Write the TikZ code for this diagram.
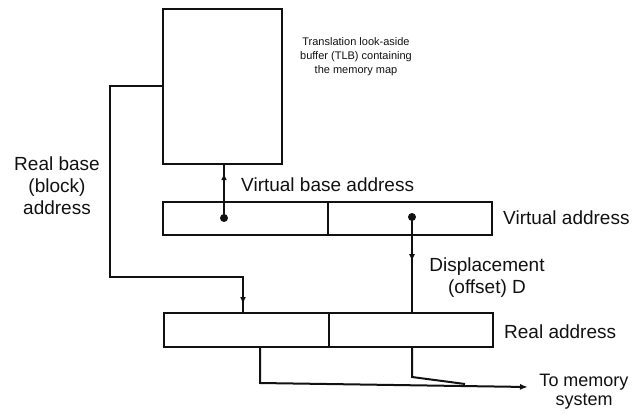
\documentclass[tikz,border=0pt]{standalone}
\usepackage{fontspec}
\setmainfont{Liberation Sans}
\usepackage{tikz}
\usetikzlibrary{arrows.meta,positioning,calc,decorations.markings}
\definecolor{MapInk}{HTML}{111111}

\tikzset{
  reg/.style={draw=MapInk,line width=2pt,minimum height=33pt,inner sep=0pt,outer sep=0pt},
  wire/.style={draw=MapInk,line width=2pt},
  tipat/.style={postaction={decorate},decoration={markings,mark=at position #1 with {\arrow{Latex[length=7pt,width=6pt]}}}},
  lbl/.style={text=MapInk,font=\fontsize{19}{22}\selectfont,inner sep=0pt},
  dot/.style={circle,fill=MapInk,inner sep=0pt,minimum size=8pt}
}

\begin{document}
\begin{tikzpicture}[x=1pt,y=-1pt]
\useasboundingbox (0,0) rectangle (638,413);
% TLB and the two address registers
\node[reg,minimum width=119pt,minimum height=155pt] (tlb) at (222.5,86.5) {};
\node[reg,minimum width=165pt] (vbase) at (245.5,218.5) {};
\node[reg,minimum width=164pt,right=0pt of vbase] (voff) {};
\node[reg,minimum width=165pt,minimum height=34pt] (rbase) at (246.5,330) {};
\node[reg,minimum width=164pt,minimum height=34pt,right=0pt of rbase] (roff) {};
\node[dot] (vdot) at (224,218) {};
\node[dot] (ddot) at (412,217) {};
\coordinate (mem) at (528,387);
% connectors
\draw[wire,tipat=0.83] (vdot.center) -- (vdot |- tlb.south);
\draw[wire,tipat=-9pt] (tlb.west |- 0,86) -| (110,277) -| (243,0 |- rbase.north);
\draw[wire,tipat=0.46] (ddot.center) -- (ddot |- roff.north);
\draw[wire,-{Latex[length=8pt,width=6pt]}] (260,0 |- rbase.south) |- (260,383) -- (mem);
\draw[wire] (412,0 |- roff.south) -- (412,377) -- (465,384);
% labels
\node[text=MapInk,font=\fontsize{11}{14}\selectfont,align=center] (tlbtxt) at (356,57) {Translation look-aside\\buffer (TLB) containing\\the memory map};
\node[lbl,align=center] (rbtxt) at (57,186) {Real base\\(block)\\address};
\node[lbl,anchor=west] (vbtxt) at (241,185) {Virtual base address};
\node[lbl,anchor=west] (vatxt) at (503,218) {Virtual address};
\node[lbl,align=center] (dtxt) at (487,278) {Displacement\\(offset) D};
\node[lbl,anchor=west] (ratxt) at (504,332) {Real address};
\node[lbl,align=center,font=\fontsize{18}{19}\selectfont] (memtxt) at (584,392) {To memory\\system};
\end{tikzpicture}
\end{document}
